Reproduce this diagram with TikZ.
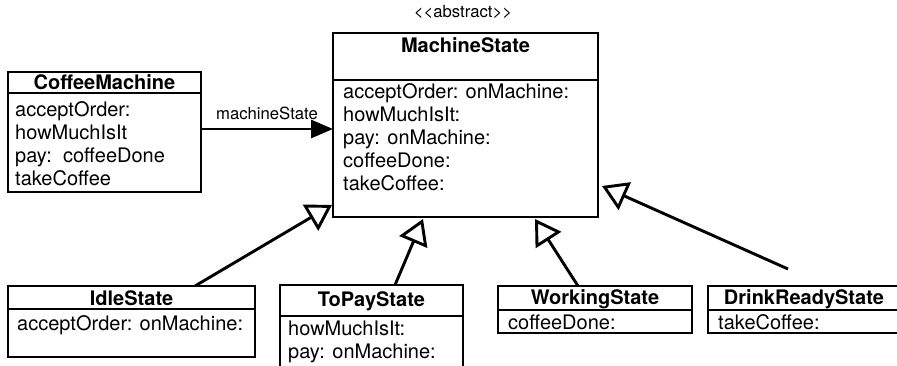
\documentclass[tikz,border=0pt]{standalone}
\usepackage{fontspec}
\setmainfont{TeX Gyre Heros}
\usetikzlibrary{arrows.meta, positioning, calc}

\tikzset{
  box/.style={draw, line width=2.9pt, anchor=north west, inner sep=0pt, outer sep=0pt},
  title/.style={anchor=base, inner sep=0pt, font=\fontsize{20}{23}\selectfont\bfseries},
  member/.style={anchor=base west, inner sep=0pt, font=\fontsize{20}{23}\selectfont},
  note/.style={inner sep=0pt, font=\fontsize{16.7}{19}\selectfont},
  assoc/.style={line width=2.9pt, -{Triangle[length=22pt, width=18pt]}},
  inherit/.style={line width=2.9pt, -{Triangle[open, length=25pt, width=30pt]}}
}

\begin{document}
\begin{tikzpicture}[x=1pt, y=-1pt]
  \useasboundingbox (0,0) rectangle (897,366);
  \clip (0,0) rectangle (897,366);

  % coffee machine
  \node[box, minimum width=193pt, minimum height=21pt] (cmHead) at (8,72) {};
  \node[box, minimum width=193pt, minimum height=99pt, below=0pt of cmHead] (cmBody) {};
  \node[title] (cmTitle) at (104.5,90) {CoffeeMachine};
  \foreach \m [count=\i from 0] in {acceptOrder:, howMuchIsIt, pay:\ \ coffeeDone, takeCoffee}
    \node[member] (cm-\i) at (15,117+23*\i) {\m};

  % abstract state
  \node[note] (abstract) at (463,12) {<{}<abstract>{}>};
  \node[box, minimum width=265pt, minimum height=47pt] (msHead) at (333,33) {};
  \node[box, minimum width=265pt, minimum height=137pt, below=0pt of msHead] (msBody) {};
  \node[title] (msTitle) at (465.5,52.5) {MachineState};
  \foreach \m [count=\i from 0] in {acceptOrder: onMachine:, howMuchIsIt:, pay: onMachine:, coffeeDone:, takeCoffee:}
    \node[member] (ms-\i) at (343,99+23*\i) {\m};

  \draw[assoc] ([yshift=13.5pt]cmBody.east) -- ([yshift=13.5pt]cmBody.east -| msBody.west)
    node[note, midway, above=8pt] (msLabel) {machineState};

  % concrete states
  \node[box, minimum width=247pt, minimum height=23pt] (idleHead) at (8,286) {};
  \node[box, minimum width=247pt, minimum height=48pt, below=0pt of idleHead] (idleBody) {};
  \node[title] (idleTitle) at (131.5,305) {IdleState};
  \node[member] (idle-0) at (17,330) {acceptOrder: onMachine:};

  \node[box, minimum width=183pt, minimum height=31pt] (payHead) at (280,285) {};
  \node[box, minimum width=183pt, minimum height=100pt, below=0pt of payHead] (payBody) {};
  \node[title] (payTitle) at (371.5,306) {ToPayState};
  \foreach \m [count=\i from 0] in {howMuchIsIt:, pay: onMachine:}
    \node[member] (pay-\i) at (288,335+23*\i) {\m};

  \node[box, minimum width=194pt, minimum height=24pt] (workHead) at (498,286) {};
  \node[box, minimum width=194pt, minimum height=23pt, below=0pt of workHead] (workBody) {};
  \node[title] (workTitle) at (595,304) {WorkingState};
  \node[member] (work-0) at (508,329) {coffeeDone:};

  \node[box, minimum width=200pt, minimum height=24pt] (drinkHead) at (708,286) {};
  \node[box, minimum width=200pt, minimum height=23pt, below=0pt of drinkHead] (drinkBody) {};
  \node[title] (drinkTitle) at (804,304) {DrinkReadyState};
  \node[member] (drink-0) at (718,329) {takeCoffee:};

  % generalisation
  \coordinate (idleFrom) at (195,286);
  \coordinate (idleTo) at (332,205);
  \coordinate (payFrom) at (395,285);
  \coordinate (payTo) at (423,219);
  \coordinate (workFrom) at (578,286);
  \coordinate (workTo) at (535,219);
  \coordinate (drinkFrom) at (788,269);
  \coordinate (drinkTo) at (602,186);
  \draw[inherit] (idleFrom) -- (idleTo);
  \draw[inherit] (payFrom) -- (payTo);
  \draw[inherit] (workFrom) -- (workTo);
  \draw[inherit] (drinkFrom) -- (drinkTo);
\end{tikzpicture}
\end{document}
